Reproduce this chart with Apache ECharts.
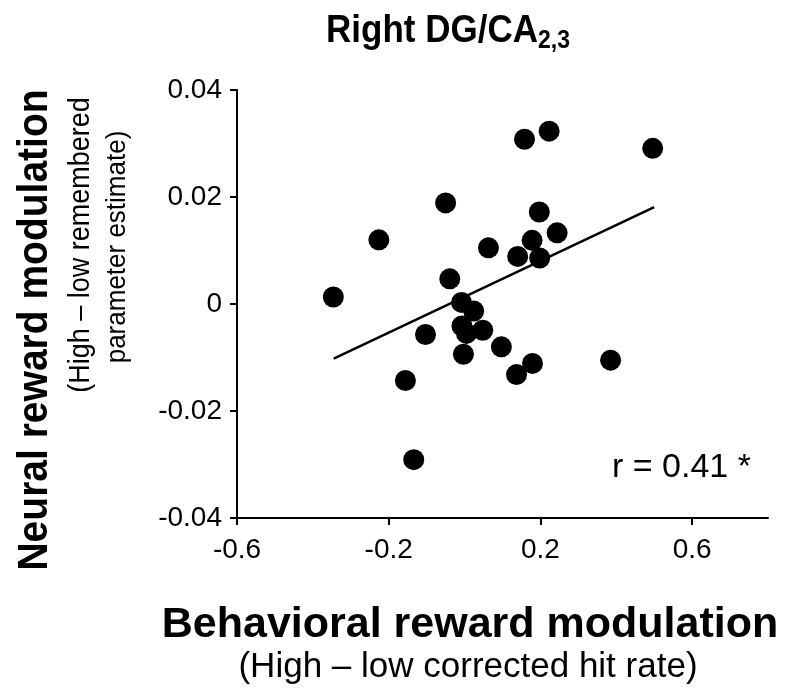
<html>
    <head>
        <meta charset="utf-8">
        <script src="https://cdn.jsdelivr.net/npm/echarts@6/dist/echarts.min.js"></script>
    </head>
    <body>
        <style>
            html, body, #main {
                width: 100%;
                height: 100%;
                margin: 0;
                background: #fff;
            }
        </style>
        <div id='main'></div>
        <script>
        // behavioural (x) vs neural (y) reward modulation, one dot per subject
        var behav = [-0.346, -0.226, -0.050, -0.039, -0.103, -0.156, -0.134, -0.008, 0.024, -0.007,
                     0.005, 0.048, -0.003, 0.097, 0.063, 0.140, 0.137, 0.178, 0.197, 0.198,
                     0.244, 0.179, 0.158, 0.223, 0.496, 0.385];
        var neural = [0.0013, 0.0120, 0.0189, 0.0047, -0.0057, -0.0143, -0.0291, 0.0003, -0.0013, -0.0041,
                      -0.0055, -0.0049, -0.0094, -0.0080, 0.0105, 0.0089, -0.0132, 0.0119, 0.0172, 0.0086,
                      0.0133, -0.0111, 0.0308, 0.0323, 0.0291, -0.0105];
        // ends of the regression line
        var fitLine = [[-0.345, -0.0102], [0.50, 0.0181]];
        var xTicks = [-0.6, -0.2, 0.2, 0.6];
        var yTicks = [-0.04, -0.02, 0, 0.02, 0.04];

        var pts = [];
        for (var i = 0; i < behav.length; i++) {
            pts.push([behav[i], neural[i]]);
        }

        var font = 'Liberation Sans, Arial, sans-serif';
        var chart = echarts.init(document.getElementById('main'));
        var option = {
            animation: false,
            backgroundColor: '#fff',
            grid: {left: 237, right: 20, top: 90, bottom: 176, containLabel: false},
            xAxis: {
                type: 'value',
                min: -0.6,
                max: 0.8,
                interval: 0.4,
                splitLine: {show: false},
                axisLine: {onZero: false, lineStyle: {color: '#000', width: 2}},
                axisTick: {show: true, length: 7, customValues: xTicks, lineStyle: {color: '#000', width: 2}},
                axisLabel: {
                    customValues: xTicks,
                    margin: 18,
                    fontFamily: font, fontSize: 28, color: '#000',
                    formatter: function (v) { return v.toFixed(1); }
                }
            },
            yAxis: {
                type: 'value',
                min: -0.04,
                max: 0.04,
                interval: 0.02,
                splitLine: {show: false},
                axisLine: {onZero: false, lineStyle: {color: '#000', width: 2}},
                axisTick: {show: true, length: 7, customValues: yTicks, lineStyle: {color: '#000', width: 2}},
                axisLabel: {
                    customValues: yTicks,
                    margin: 15,
                    fontFamily: font, fontSize: 28, color: '#000',
                    formatter: function (v) { return v === 0 ? '0' : v.toFixed(2); }
                }
            },
            series: [
                {
                    type: 'line',
                    data: fitLine,
                    symbol: 'none',
                    lineStyle: {color: '#000', width: 2.5},
                    z: 2
                },
                {
                    type: 'scatter',
                    data: pts,
                    symbol: 'circle',
                    symbolSize: 21,
                    itemStyle: {color: '#000', opacity: 1},
                    z: 3
                }
            ],
            graphic: [
                {
                    type: 'text', x: 448, y: 31, scaleY: 1.1,
                    style: {
                        text: '{a|Right DG/CA}{b|2,3}', align: 'center', verticalAlign: 'middle',
                        rich: {
                            a: {fontFamily: font, fontWeight: 'bold', fontSize: 35, fill: '#000', lineHeight: 42, verticalAlign: 'middle'},
                            b: {fontFamily: font, fontWeight: 'bold', fontSize: 23, fill: '#000', lineHeight: 42, verticalAlign: 'bottom', padding: [14, 0, 0, 0]}
                        }
                    }
                },
                {
                    type: 'text', left: 612, top: 451,
                    style: {text: 'r = 0.41 *', fontFamily: font, fontSize: 34, fill: '#000'}
                },
                {
                    type: 'text', x: 35, y: 330, rotation: Math.PI / 2, scaleY: 1.1,
                    style: {text: 'Neural reward modulation', fontFamily: font, fontWeight: 'bold', fontSize: 39,
                            fill: '#000', align: 'center', verticalAlign: 'middle'}
                },
                {
                    type: 'text', x: 81, y: 245, rotation: Math.PI / 2, scaleY: 1.08,
                    style: {text: '(High \u2013 low remembered', fontFamily: font, fontSize: 27,
                            fill: '#000', align: 'center', verticalAlign: 'middle'}
                },
                {
                    type: 'text', x: 117, y: 247, rotation: Math.PI / 2, scaleY: 1.08,
                    style: {text: 'parameter estimate)', fontFamily: font, fontSize: 26,
                            fill: '#000', align: 'center', verticalAlign: 'middle'}
                },
                {
                    type: 'text', x: 470, y: 625,
                    style: {text: 'Behavioral reward modulation', fontFamily: font, fontWeight: 'bold', fontSize: 43,
                            fill: '#000', align: 'center', verticalAlign: 'middle'}
                },
                {
                    type: 'text', x: 468, y: 667,
                    style: {text: '(High \u2013 low corrected hit rate)', fontFamily: font, fontSize: 35,
                            fill: '#000', align: 'center', verticalAlign: 'middle'}
                }
            ]
        };
        chart.setOption(option);
        window.onresize = chart.resize;
        </script>
    </body>
</html>
